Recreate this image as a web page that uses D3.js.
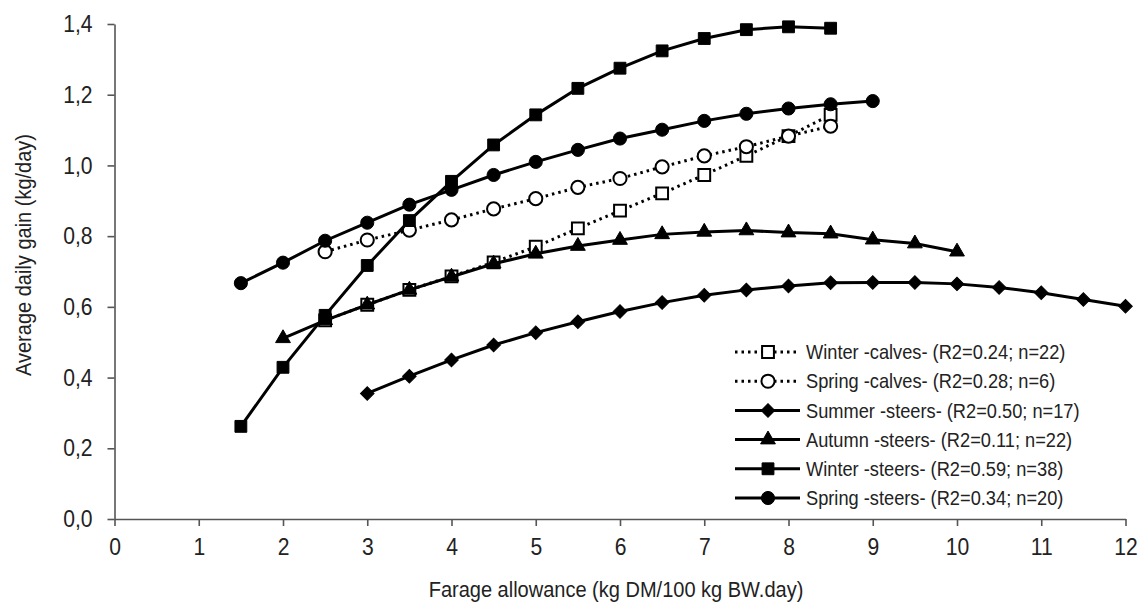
<!DOCTYPE html>
<html>
<head>
<meta charset="utf-8">
<script src="https://cdn.jsdelivr.net/npm/d3@7"></script>
<style>
  body { margin: 0; background: #fff; }
  text { font-family: "Liberation Sans", Arial, sans-serif; fill: #222; }
</style>
</head>
<body>
<div id="chart-area"></div>
<script>
// values
const xTicks = [0, 1, 2, 3, 4, 5, 6, 7, 8, 9, 10, 11, 12]
const yTicks = [0, 0.2, 0.4, 0.6, 0.8, 1.0, 1.2, 1.4]
const yTickLabels = ["0,0", "0,2", "0,4", "0,6", "0,8", "1,0", "1,2", "1,4"]

const winterCalvesX = [2.5, 3, 3.5, 4, 4.5, 5, 5.5, 6, 6.5, 7, 7.5, 8, 8.5]
const winterCalvesY = [0.562, 0.606, 0.648, 0.686, 0.726, 0.770, 0.822, 0.872, 0.921, 0.973, 1.027, 1.083, 1.143]

const springCalvesX = [2.5, 3, 3.5, 4, 4.5, 5, 5.5, 6, 6.5, 7, 7.5, 8, 8.5]
const springCalvesY = [0.756, 0.789, 0.817, 0.846, 0.877, 0.906, 0.938, 0.963, 0.996, 1.027, 1.053, 1.083, 1.111]

const summerSteersX = [3, 3.5, 4, 4.5, 5, 5.5, 6, 6.5, 7, 7.5, 8, 8.5, 9, 9.5, 10, 10.5, 11, 11.5, 12]
const summerSteersY = [0.355, 0.404, 0.450, 0.492, 0.527, 0.558, 0.587, 0.612, 0.633, 0.648, 0.659, 0.668, 0.669, 0.669, 0.665, 0.655, 0.640, 0.621, 0.602]

const autumnSteersX = [2, 2.5, 3, 3.5, 4, 4.5, 5, 5.5, 6, 6.5, 7, 7.5, 8, 8.5, 9, 9.5, 10]
const autumnSteersY = [0.511, 0.562, 0.606, 0.648, 0.685, 0.722, 0.750, 0.772, 0.789, 0.805, 0.812, 0.816, 0.810, 0.807, 0.790, 0.779, 0.756]

const winterSteersX = [1.5, 2, 2.5, 3, 3.5, 4, 4.5, 5, 5.5, 6, 6.5, 7, 7.5, 8, 8.5]
const winterSteersY = [0.262, 0.429, 0.576, 0.717, 0.844, 0.955, 1.058, 1.143, 1.218, 1.275, 1.324, 1.359, 1.384, 1.392, 1.388]

const springSteersX = [1.5, 2, 2.5, 3, 3.5, 4, 4.5, 5, 5.5, 6, 6.5, 7, 7.5, 8, 8.5, 9]
const springSteersY = [0.667, 0.725, 0.787, 0.838, 0.889, 0.931, 0.973, 1.010, 1.044, 1.076, 1.101, 1.126, 1.146, 1.161, 1.173, 1.182]

const seriesNames = [
    "Winter -calves- (R2=0.24; n=22)",
    "Spring -calves- (R2=0.28; n=6)",
    "Summer -steers- (R2=0.50; n=17)",
    "Autumn -steers- (R2=0.11; n=22)",
    "Winter -steers- (R2=0.59; n=38)",
    "Spring -steers- (R2=0.34; n=20)"
]

const series = [
    { name: seriesNames[0], xs: winterCalvesX, ys: winterCalvesY, dotted: true, shape: "square", open: true },
    { name: seriesNames[1], xs: springCalvesX, ys: springCalvesY, dotted: true, shape: "circle", open: true },
    { name: seriesNames[2], xs: summerSteersX, ys: summerSteersY, dotted: false, shape: "diamond", open: false },
    { name: seriesNames[3], xs: autumnSteersX, ys: autumnSteersY, dotted: false, shape: "triangle", open: false },
    { name: seriesNames[4], xs: winterSteersX, ys: winterSteersY, dotted: false, shape: "square", open: false },
    { name: seriesNames[5], xs: springSteersX, ys: springSteersY, dotted: false, shape: "circle", open: false }
]

// the original uses a narrow font, squeeze a regular one
const narrow = 0.88

const svg = d3.select("#chart-area")
    .append("svg")
    .attr("width", 1142)
    .attr("height", 604)

const x = d3.scaleLinear()
    .domain([0, 12])
    .range([114.5, 1125.5])

const y = d3.scaleLinear()
    .domain([0, 1.4])
    .range([519, 24])

// axes
const xAxisCall = d3.axisBottom(x)
    .tickValues(xTicks)
    .tickFormat(d3.format("d"))
    .tickSize(7)
    .tickSizeOuter(0)
    .tickPadding(12)

const yAxisCall = d3.axisLeft(y)
    .tickValues(yTicks)
    .tickFormat((d, i) => yTickLabels[i])
    .tickSize(7)
    .tickSizeOuter(0)

const xAxis = svg.append("g")
    .attr("class", "x axis")
    .attr("transform", `translate(0, ${y(0)})`)
    .call(xAxisCall)

const yAxis = svg.append("g")
    .attr("class", "y axis")
    .attr("transform", `translate(${x(0)}, 0)`)
    .call(yAxisCall)

svg.selectAll(".axis path, .axis line")
    .attr("stroke", "#555")
    .attr("stroke-width", 1.6)
svg.selectAll(".axis text")
    .attr("fill", "#222")
    .style("font-size", "24px")
xAxis.selectAll("text")
    .attr("dy", "0.71em")
    .attr("transform", `scale(${narrow}, 1)`)
yAxis.selectAll("text")
    .attr("x", 0)
    .attr("transform", `translate(-22, 0) scale(${narrow}, 1)`)

// axis titles
svg.append("text")
    .attr("transform", `translate(616, 597) scale(0.91, 1)`)
    .attr("text-anchor", "middle")
    .style("font-size", "22px")
    .text("Farage allowance (kg DM/100 kg BW.day)")

svg.append("text")
    .attr("transform", `translate(31, 255) rotate(-90) scale(0.91, 1)`)
    .attr("text-anchor", "middle")
    .style("font-size", "22px")
    .text("Average daily gain (kg/day)")

// markers
const symbolOf = s => {
    if (s === "square") return d3.symbol(d3.symbolSquare, 140)
    if (s === "circle") return d3.symbol(d3.symbolCircle, 135)
    if (s === "diamond") return d3.symbol(d3.symbolSquare, 92)
    return d3.symbol(d3.symbolTriangle, 95)
}

const line = d3.line()
    .x(d => x(d[0]))
    .y(d => y(d[1]))

series.forEach(s => {
    const pts = s.xs.map((v, i) => [v, s.ys[i]])
    svg.append("path")
        .datum(pts)
        .attr("d", line)
        .attr("fill", "none")
        .attr("stroke", "#000")
        .attr("stroke-width", 3)
        .attr("stroke-dasharray", s.dotted ? "2.5,4" : null)

    svg.selectAll(null)
        .data(pts)
        .enter().append("path")
        .attr("d", symbolOf(s.shape))
        .attr("transform", d => `translate(${x(d[0])}, ${y(d[1])})` + (s.shape === "diamond" ? " rotate(45)" : ""))
        .attr("fill", s.open ? "#fff" : "#000")
        .attr("stroke", "#000")
        .attr("stroke-width", s.open ? 2 : 1)
})

// legend
const legend = svg.append("g")
    .attr("transform", "translate(735, 352)")

series.forEach((s, i) => {
    const row = legend.append("g")
        .attr("transform", `translate(0, ${i * 29.2})`)
    row.append("line")
        .attr("x1", 0).attr("x2", 65)
        .attr("stroke", "#000")
        .attr("stroke-width", 3)
        .attr("stroke-dasharray", s.dotted ? "2.5,4" : null)
    row.append("path")
        .attr("d", symbolOf(s.shape))
        .attr("transform", `translate(33, 0)` + (s.shape === "diamond" ? " rotate(45)" : ""))
        .attr("fill", s.open ? "#fff" : "#000")
        .attr("stroke", "#000")
        .attr("stroke-width", s.open ? 2 : 1)
    row.append("text")
        .attr("transform", `translate(71, 0) scale(0.89, 1)`)
        .attr("dy", "0.35em")
        .style("font-size", "20.5px")
        .text(s.name)
})
</script>
</body>
</html>
